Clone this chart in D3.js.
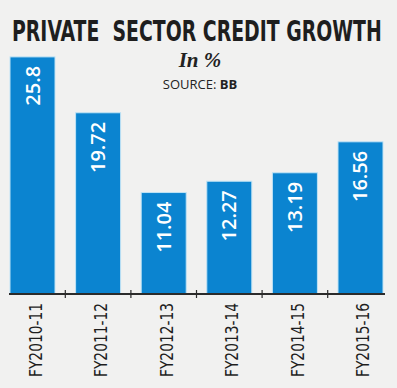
<!DOCTYPE html>
<html>
<head>
<meta charset="utf-8">
<script src="https://cdn.jsdelivr.net/npm/d3@7/dist/d3.min.js"></script>
<style>
  html, body { margin: 0; padding: 0; background: #f1f1f0; }
  svg { display: block; }
</style>
</head>
<body>
<script>
const categories = ["FY2010-11", "FY2011-12", "FY2012-13", "FY2013-14", "FY2014-15", "FY2015-16"];
const values = [25.8, 19.72, 11.04, 12.27, 13.19, 16.56];
const valueLabels = ["25.8", "19.72", "11.04", "12.27", "13.19", "16.56"];
const title = "PRIVATE  SECTOR CREDIT GROWTH";
const subtitle = "In %";
const sourceLabel = "SOURCE: ";
const sourceName = "BB";

const W = 397, H = 388;
const svg = d3.select("body").append("svg").attr("width", W).attr("height", H);
svg.append("rect").attr("width", W).attr("height", H).attr("fill", "#f1f1f0");

const baseY = 294;
const x = d3.scaleBand().domain(categories).range([10, 383]).paddingInner(0.314).paddingOuter(0);
const y = d3.scaleLinear().domain([0, 28]).range([baseY, baseY - 28 * 9.19]);

const condensed = "'Liberation Sans Narrow', 'DejaVu Sans Condensed', sans-serif";

// Title (fitted horizontally to the reference width with a scale transform)
const titleG = svg.append("g");
const titleT = titleG.append("text")
  .attr("x", 0).attr("y", 0)
  .style("font-family", condensed)
  .style("font-weight", "bold").style("font-size", "29px")
  .style("fill", "#1e1e1e")
  .style("white-space", "pre")
  .text(title);
const tw = titleT.node().getComputedTextLength();
titleG.attr("transform", `translate(12,41) scale(${370 / tw},1)`);

svg.append("text")
  .attr("x", 200).attr("y", 67).attr("text-anchor", "middle")
  .style("font-family", "'Liberation Serif', 'DejaVu Serif', serif")
  .style("font-style", "italic").style("font-weight", "bold").style("font-size", "21px")
  .style("fill", "#222")
  .text(subtitle);

const src = svg.append("text")
  .attr("x", 200).attr("y", 89).attr("text-anchor", "middle")
  .style("font-family", "'Open Sans', 'DejaVu Sans', sans-serif")
  .style("font-size", "13px").style("fill", "#222");
src.append("tspan").text(sourceLabel);
src.append("tspan").style("font-weight", "bold").text(sourceName);

// Bars
svg.selectAll("rect.bar").data(values).enter().append("rect")
  .attr("class", "bar")
  .attr("x", (d, i) => x(categories[i]))
  .attr("y", d => y(d))
  .attr("width", x.bandwidth())
  .attr("height", d => y(0) - y(d))
  .attr("fill", "#0b84d0")
  .attr("stroke", "#bfe3f5").attr("stroke-width", 1);

// Value labels
svg.selectAll("text.val").data(values).enter().append("text")
  .attr("class", "val")
  .attr("transform", (d, i) => `translate(${x(categories[i]) + x.bandwidth() / 2 + 7},${y(d) + 9}) rotate(-90)`)
  .attr("text-anchor", "end")
  .style("font-family", "'Open Sans', sans-serif")
  .style("font-size", "20px").style("font-weight", "600")
  .style("fill", "#ffffff")
  .text((d, i) => valueLabels[i]);

// Axis
const axisG = svg.append("g");
axisG.append("line")
  .attr("x1", 9).attr("x2", 385).attr("y1", baseY).attr("y2", baseY)
  .attr("stroke", "#2b2b2b").attr("stroke-width", 2);
const tickXs = categories.slice(1).map(c => x(c) - (x.step() - x.bandwidth()) / 2);
axisG.selectAll("line.tick").data(tickXs).enter().append("line")
  .attr("class", "tick")
  .attr("x1", d => d).attr("x2", d => d)
  .attr("y1", baseY - 4).attr("y2", baseY + 4)
  .attr("stroke", "#2b2b2b").attr("stroke-width", 1.2);

// Category labels (fitted to 74px length)
svg.selectAll("g.cat").data(categories).enter().append("g")
  .attr("class", "cat")
  .each(function (d) {
    const g = d3.select(this);
    const t = g.append("text")
      .attr("text-anchor", "end")
      .style("font-family", condensed)
      .style("font-size", "18px")
      .style("fill", "#1e1e1e")
      .text(d);
    const len = t.node().getComputedTextLength();
    g.attr("transform", `translate(${x(d) + x.bandwidth() / 2 + 9},${baseY + 9}) rotate(-90) scale(${74 / len},1)`);
  });
</script>
</body>
</html>
